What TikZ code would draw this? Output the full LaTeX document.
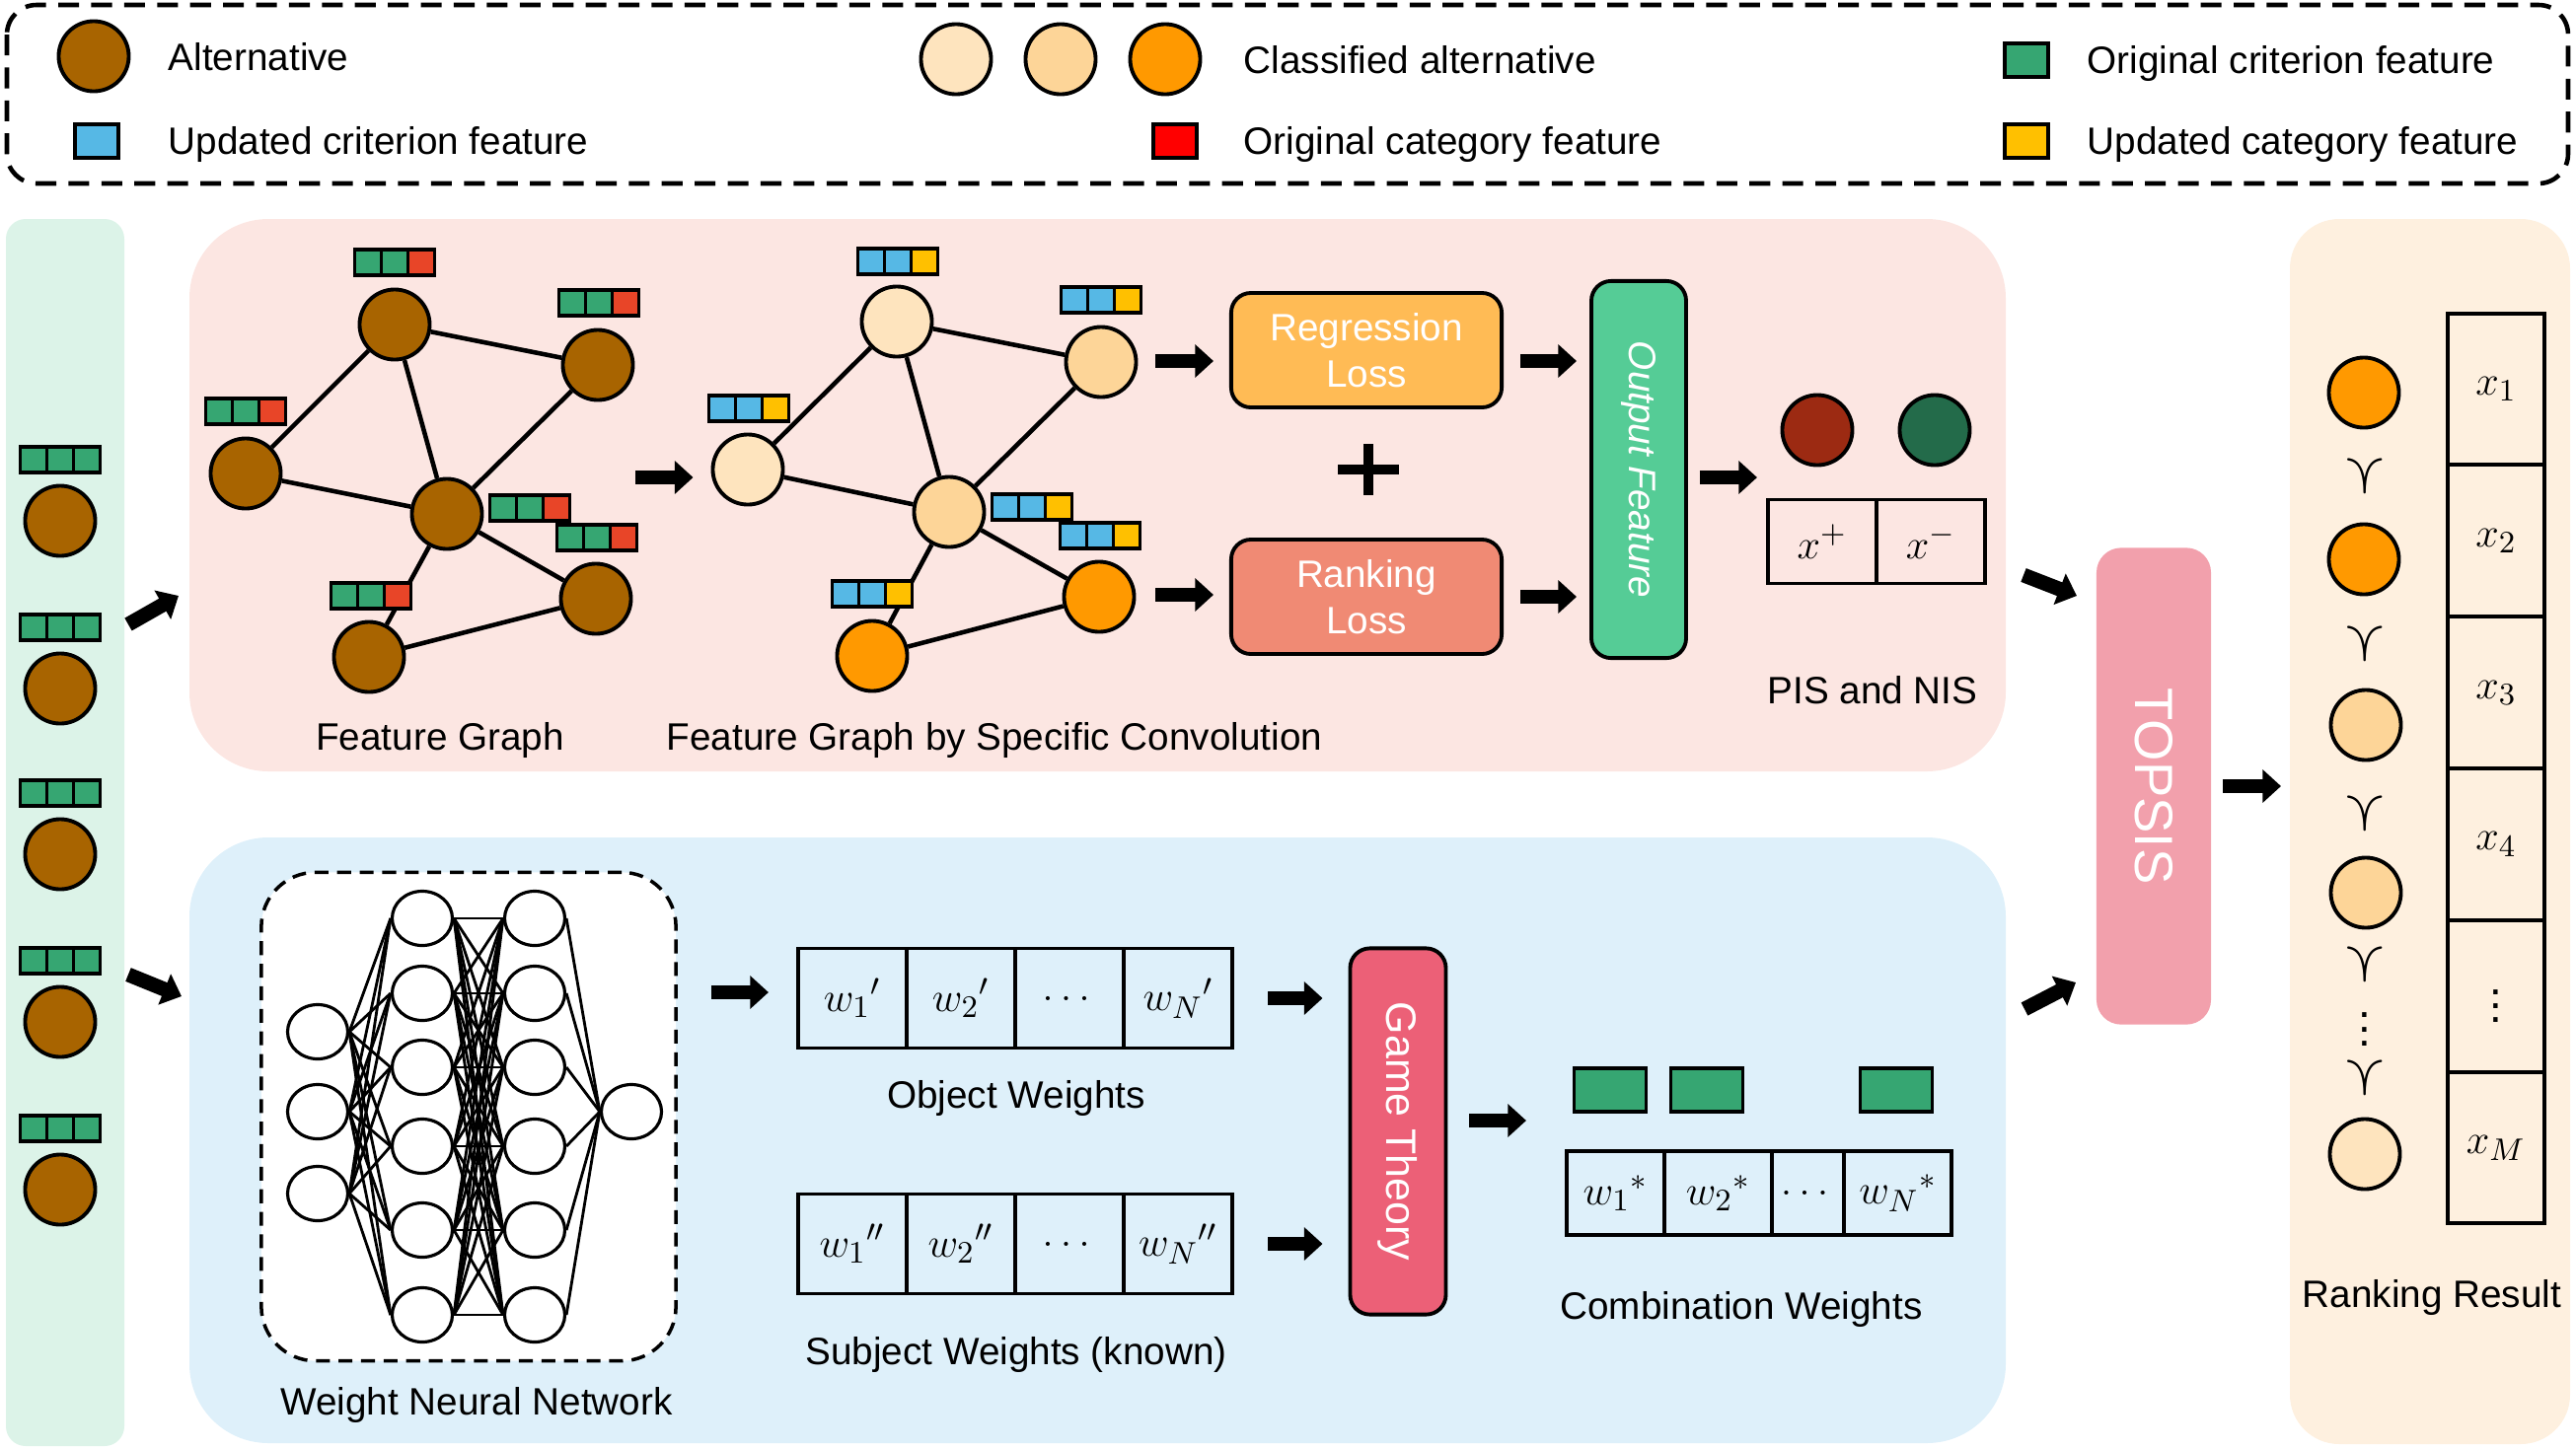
\documentclass[tikz,border=0pt]{standalone}
\usepackage{amsmath}
\usepackage{amssymb}
\usepackage{fontspec}
\setmainfont{Liberation Sans}
\usetikzlibrary{positioning,arrows.meta,shapes.geometric}

\definecolor{altbrown}{RGB}{168,100,0}
\definecolor{clsA}{RGB}{254,228,190}
\definecolor{clsB}{RGB}{253,213,152}
\definecolor{clsC}{RGB}{255,153,0}
\definecolor{critgreen}{RGB}{54,166,114}
\definecolor{critblue}{RGB}{86,184,229}
\definecolor{catred}{RGB}{255,0,0}
\definecolor{catredb}{RGB}{232,69,40}
\definecolor{catyellow}{RGB}{255,192,0}
\definecolor{pisred}{RGB}{156,42,18}
\definecolor{nisgreen}{RGB}{35,107,74}
\definecolor{regcol}{RGB}{255,187,85}
\definecolor{rankcol}{RGB}{240,138,116}
\definecolor{outcol}{RGB}{85,204,150}
\definecolor{gamecol}{RGB}{236,96,119}
\definecolor{topsiscol}{RGB}{242,160,172}
\definecolor{inpanel}{RGB}{220,243,232}
\definecolor{gcnpanel}{RGB}{252,230,226}
\definecolor{wnnpanel}{RGB}{222,240,250}
\definecolor{respanel}{RGB}{254,240,223}

\tikzset{
  altnode/.style={circle, draw, line width=1.1pt, minimum size=7.1mm, inner sep=0pt, fill=#1},
  altnode/.default=altbrown,
  fcell/.style={draw, line width=0.9pt, minimum width=2.7mm, minimum height=2.6mm, inner sep=0pt, outer sep=0pt, fill=#1},
  legbox/.style={draw, line width=1.1pt, minimum width=4.4mm, minimum height=3.4mm, inner sep=0pt, fill=#1},
  legtext/.style={anchor=mid west, inner sep=0pt},
  gedge/.style={line width=1.3pt},
  fat/.style={line width=4.2pt, -{Triangle[length=5.3pt,width=9.3pt]}},
  lossbox/.style={draw, line width=1.1pt, rounded corners=2mm, minimum width=27.4mm, minimum height=11.6mm, text=white, align=center, fill=#1},
  tallbox/.style={draw, line width=1.1pt, rounded corners=2mm, text=white, inner sep=0pt, fill=#1},
  mathbig/.style={font=\fontsize{13}{14}\selectfont},
  prefsym/.style={inner sep=0pt, font=\fontsize{17}{17}\selectfont},
  xcell/.style={draw, line width=1.1pt, minimum width=11mm, minimum height=8.5mm, inner sep=0pt, outer sep=0pt, mathbig},
  wcell/.style={draw, line width=1.1pt, minimum width=11mm, minimum height=10.1mm, inner sep=0pt, outer sep=0pt, mathbig},
  ccell/.style={draw, line width=1.1pt, minimum height=8.5mm, inner sep=0pt, outer sep=0pt, mathbig},
  rcell/.style={draw, line width=1.1pt, minimum width=9.8mm, minimum height=15.37mm, inner sep=0pt, outer sep=0pt, mathbig},
  neuron/.style={ellipse, draw, line width=0.9pt, fill=white, minimum width=6.1mm, minimum height=5.5mm, inner sep=0pt},
  syn/.style={line width=0.8pt},
}

\newcommand{\featbar}[4]{%
  \node[fcell=#3] (#1b) at (#2) {};
  \node[fcell=#3, left=0pt of #1b] (#1a) {};
  \node[fcell=#4, right=0pt of #1b] (#1c) {};}

\begin{document}
\begin{tikzpicture}[x=0.01cm, y=-0.01cm, font=\fontsize{11}{13.4}\selectfont]
\useasboundingbox (0,0) rectangle (2611,1469);

% legend
\draw[line width=1.3pt, dash pattern=on 6pt off 3.5pt, rounded corners=3mm] (7,5) rectangle (2603,186);
\node[altnode] (legAlt) at (95,57) {};
\node[legtext] (legAltT) at (170,62) {Alternative};
\node[altnode=clsA] (legClsA) at (969,60) {};
\node[altnode=clsB] (legClsB) at (1075,60) {};
\node[altnode=clsC] (legClsC) at (1181,60) {};
\node[legtext] (legClsT) at (1260,65) {Classified alternative};
\node[legbox=critgreen] (legCrit) at (2054,61) {};
\node[legtext] (legCritT) at (2115,65) {Original criterion feature};
\node[legbox=critblue] (legUcrit) at (98,143) {};
\node[legtext] (legUcritT) at (170,147) {Updated criterion feature};
\node[legbox=catred] (legCat) at (1191,143) {};
\node[legtext] (legCatT) at (1260,147) {Original category feature};
\node[legbox=catyellow] (legUcat) at (2054,143) {};
\node[legtext] (legUcatT) at (2115,147) {Updated category feature};

% panels
\fill[inpanel, rounded corners=2mm] (6,222) rectangle (126,1466);
\fill[gcnpanel, rounded corners=8mm] (192,222) rectangle (2033,782);
\fill[wnnpanel, rounded corners=8mm] (192,849) rectangle (2033,1463);
\fill[respanel, rounded corners=5mm] (2321,222) rectangle (2605,1464);

% input alternatives
\foreach \n/\y in {1/528, 2/698, 3/866, 4/1036, 5/1206} {
  \node[altnode] (in\n) at (61,\y) {};
  \featbar{inbar\n}{61,\y-62}{critgreen}{critgreen}
}
\coordinate (inUp) at (130,633);
\coordinate (inUpEnd) at (181,604);
\coordinate (inLo) at (130,988);
\coordinate (inLoEnd) at (184,1010);
\draw[fat] (inUp) -- (inUpEnd);
\draw[fat] (inLo) -- (inLoEnd);

% feature graph
\node[altnode] (fA) at (400,329) {};
\node[altnode] (fB) at (606,370) {};
\node[altnode] (fC) at (249,480) {};
\node[altnode] (fD) at (453,521) {};
\node[altnode] (fE) at (604,607) {};
\node[altnode] (fF) at (374,666) {};
\draw[gedge] (fA) -- (fB) (fA) -- (fC) (fA) -- (fD) (fB) -- (fD)
             (fC) -- (fD) (fD) -- (fE) (fD) -- (fF) (fE) -- (fF);
\featbar{fAbar}{400,266}{critgreen}{catredb}
\featbar{fBbar}{607,307}{critgreen}{catredb}
\featbar{fCbar}{249,417}{critgreen}{catredb}
\featbar{fDbar}{537,515}{critgreen}{catredb}
\featbar{fEbar}{605,545}{critgreen}{catredb}
\featbar{fFbar}{376,604}{critgreen}{catredb}
\node (fgcap) at (446,750) {Feature Graph};

% convolved graph
\node[altnode=clsA] (sA) at (909,326) {};
\node[altnode=clsB] (sB) at (1116,367) {};
\node[altnode=clsA] (sC) at (758,476) {};
\node[altnode=clsB] (sD) at (962,519) {};
\node[altnode=clsC] (sE) at (1114,605) {};
\node[altnode=clsC] (sF) at (884,665) {};
\draw[gedge] (sA) -- (sB) (sA) -- (sC) (sA) -- (sD) (sB) -- (sD)
             (sC) -- (sD) (sD) -- (sE) (sD) -- (sF) (sE) -- (sF);
\featbar{sAbar}{910,265}{critblue}{catyellow}
\featbar{sBbar}{1116,304}{critblue}{catyellow}
\featbar{sCbar}{759,414}{critblue}{catyellow}
\featbar{sDbar}{1046,514}{critblue}{catyellow}
\featbar{sEbar}{1115,543}{critblue}{catyellow}
\featbar{sFbar}{884,602}{critblue}{catyellow}
\node (sgcap) at (1008,750) {Feature Graph by Specific Convolution};

\coordinate (g1out) at (644,484);
\draw[fat, shorten >=1.8mm] (g1out) -- (g1out -| sC.west);

% losses
\node[lossbox=regcol] (reg) at (1385,355) {Regression\\Loss};
\node[lossbox=rankcol] (rank) at (1385,605) {Ranking\\Loss};
\draw[line width=2.7pt] (1356,476) -- (1418,476) (1387,450) -- (1387,502);
\coordinate (s2reg) at (1171,366);
\coordinate (s2rank) at (1171,603);
\draw[fat, shorten >=1.6mm] (s2reg) -- (s2reg -| reg.west);
\draw[fat, shorten >=1.6mm] (s2rank) -- (s2rank -| rank.west);

\node[tallbox=outcol, minimum width=9.6mm, minimum height=38.2mm] (out) at (1661,476) {\rotatebox{-90}{\itshape Output Feature}};
\draw[fat, shorten <=1.7mm, shorten >=1.3mm] ([yshift=-1.1mm]reg.east) -- ([yshift=-1.1mm]reg.east -| out.west);
\draw[fat, shorten <=1.7mm, shorten >=1.3mm] (rank.east) -- (rank.east -| out.west);

% PIS and NIS
\node[altnode=pisred] (pis) at (1842,436) {};
\node[altnode=nisgreen] (nis) at (1961,436) {};
\node[xcell] (pisx) at (1847,549) {$x^+$};
\node[xcell, right=0pt of pisx] (nisx) {$x^-$};
\node (piscap) at (1898,700) {PIS and NIS};
\draw[fat, shorten <=1.2mm, shorten >=1.1mm] ([yshift=-0.8mm]out.east) -- ([yshift=-0.8mm]out.east -| pisx.west);

% TOPSIS
\node[fill=topsiscol, rounded corners=2.5mm, minimum width=11.6mm, minimum height=48.3mm, inner sep=0pt, text=white, font=\fontsize{15.5}{16}\selectfont] (topsis) at (2183,797) {\rotatebox{-90}{TOPSIS}};
\coordinate (tInA) at (2051,583);
\coordinate (tInAEnd) at (2105,604);
\coordinate (tInB) at (2052,1023);
\coordinate (tInBEnd) at (2104,996);
\draw[fat] (tInA) -- (tInAEnd);
\draw[fat] (tInB) -- (tInBEnd);
\coordinate (resIn) at (2312,797);
\draw[fat, shorten <=1.1mm] (topsis.east) -- (resIn);

% ranking result
\node[altnode=clsC] (r1) at (2396,398) {};
\node[altnode=clsC] (r2) at (2396,567) {};
\node[altnode=clsB] (r3) at (2398,735) {};
\node[altnode=clsB] (r4) at (2398,905) {};
\node[altnode=clsA] (r5) at (2397,1170) {};
\node[prefsym] (p1) at (2397,483) {$\curlyvee$};
\node[prefsym] (p2) at (2397,653) {$\curlyvee$};
\node[prefsym] (p3) at (2397,825) {$\curlyvee$};
\node[prefsym] (p4) at (2397,978) {$\curlyvee$};
\node[inner sep=0pt, mathbig] (pdots) at (2397,1033) {$\vdots$};
\node[prefsym] (p5) at (2397,1093) {$\curlyvee$};
\node[rcell] (x1) at (2530,394.5) {$x_1$};
\node[rcell, below=0pt of x1] (x2) {$x_2$};
\node[rcell, below=0pt of x2] (x3) {$x_3$};
\node[rcell, below=0pt of x3] (x4) {$x_4$};
\node[rcell, below=0pt of x4] (x5) {$\vdots$};
\node[rcell, below=0pt of x5] (x6) {$x_M$};
\node (rescap) at (2465,1315) {Ranking Result};

% weight neural network
\node[draw, line width=1pt, dash pattern=on 4pt off 2.5pt, rounded corners=5.5mm, fill=white, minimum width=42mm, minimum height=49.5mm] (nnbox) at (475,1132) {};
\foreach \i/\y in {1/1046, 2/1127, 3/1210} {
  \node[neuron] (nA\i) at (322,\y) {};
}
\foreach \j/\y in {1/931, 2/1007, 3/1082, 4/1162, 5/1247, 6/1333} {
  \node[neuron] (nB\j) at (428,\y) {};
  \node[neuron] (nC\j) at (542,\y) {};
}
\node[neuron] (nD) at (640,1127) {};
\foreach \i in {1,2,3} \foreach \j in {1,...,6} \draw[syn] (nA\i.east) -- (nB\j.west);
\foreach \i in {1,...,6} \foreach \j in {1,...,6} \draw[syn] (nB\i.east) -- (nC\j.west);
\foreach \j in {1,...,6} \draw[syn] (nC\j.east) -- (nD.west);
\node (nncap) at (483,1424) {Weight Neural Network};

% object and subject weights
\node[wcell] (o1) at (864,1012) {${w_1}'$};
\node[wcell, right=0pt of o1] (o2) {${w_2}'$};
\node[wcell, right=0pt of o2] (o3) {$\dots$};
\node[wcell, right=0pt of o3] (o4) {${w_N}'$};
\node (ocap) at (1030,1113) {Object Weights};
\node[wcell] (s1) at (864,1261) {${w_1}''$};
\node[wcell, right=0pt of s1] (s2) {${w_2}''$};
\node[wcell, right=0pt of s2] (s3) {$\dots$};
\node[wcell, right=0pt of s3] (s4) {${w_N}''$};
\node (scap) at (1030,1373) {Subject Weights (known)};
\coordinate (nn2o) at (721,1006);
\draw[fat, shorten >=3mm] (nn2o) -- (nn2o -| o1.west);

% game theory
\node[tallbox=gamecol, minimum width=9.7mm, minimum height=37.1mm, font=\fontsize{12.2}{13}\selectfont] (game) at (1417,1147) {\rotatebox{-90}{Game Theory}};
\draw[fat, shorten <=3.6mm, shorten >=2.6mm] (o4.east) -- (o4.east -| game.west);
\draw[fat, shorten <=3.6mm, shorten >=2.6mm] (s4.east) -- (s4.east -| game.west);

% combination weights
\node[ccell, minimum width=9.9mm] (c1) at (1637.5,1209.5) {${w_1}^*$};
\node[ccell, minimum width=10.9mm, right=0pt of c1] (c2) {${w_2}^*$};
\node[ccell, minimum width=7.3mm, right=0pt of c2] (c3) {$\dots$};
\node[ccell, minimum width=10.9mm, right=0pt of c3] (c4) {${w_N}^*$};
\node[legbox=critgreen, minimum width=7.3mm, minimum height=4.4mm] (cg1) at (1632,1105) {};
\node[legbox=critgreen, minimum width=7.3mm, minimum height=4.4mm] (cg2) at (1730,1105) {};
\node[legbox=critgreen, minimum width=7.3mm, minimum height=4.4mm] (cg4) at (1922,1105) {};
\node (ccap) at (1765,1327) {Combination Weights};
\draw[fat, shorten <=2.2mm, shorten >=4.1mm] ([yshift=1.1mm]game.east) -- ([yshift=1.1mm]game.east -| c1.west);
\end{tikzpicture}
\end{document}
